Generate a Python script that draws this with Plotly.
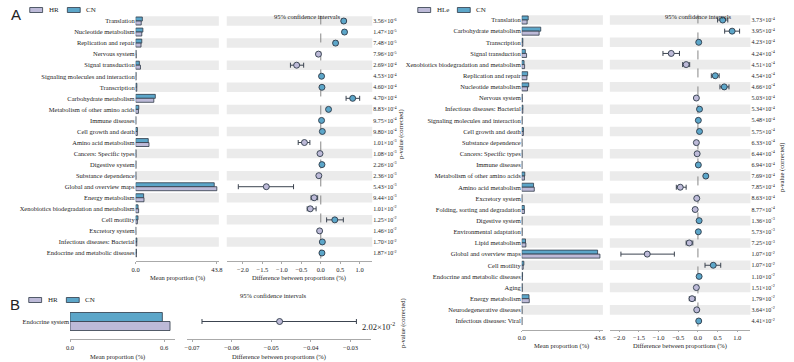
import numpy as np
import plotly.graph_objects as go

W, H = 794, 362

# ---------------- Panel A (left): HR vs CN ----------------
A1_CATEGORIES = ["Translation", "Nucleotide metabolism", "Replication and repair", "Nervous system",
                 "Signal transduction", "Signaling molecules and interaction", "Transcription",
                 "Carbohydrate metabolism", "Metabolism of other amino acids", "Immune diseases",
                 "Cell growth and death", "Amino acid metabolism", "Cancers: Specific types",
                 "Digestive system", "Substance dependence", "Global and overview maps",
                 "Energy metabolism", "Xenobiotics biodegradation and metabolism", "Cell motility",
                 "Excretory system", "Infectious diseases: Bacterial", "Endocrine and metabolic diseases"]
A1_HR = [3.0, 3.3, 2.9, 0.30, 2.6, 0.20, 0.60, 9.8, 1.5, 0.10, 0.90, 7.2, 0.20, 0.15, 0.15, 43.8,
         4.5, 1.6, 0.90, 0.10, 0.60, 0.40]
A1_CN = [3.6, 3.9, 3.3, 0.24, 2.0, 0.22, 0.63, 10.6, 1.7, 0.12, 0.94, 6.8, 0.18, 0.18, 0.10, 42.4,
         4.3, 1.3, 1.25, 0.07, 0.64, 0.43]
A1_DIFF = [0.59, 0.61, 0.38, -0.06, -0.62, 0.02, 0.03, 0.82, 0.20, 0.02, 0.04, -0.42, -0.02, 0.03,
           -0.05, -1.40, -0.17, -0.27, 0.36, -0.03, 0.04, 0.03]
A1_CI_LOW = [0.54, 0.57, 0.33, -0.08, -0.78, 0.01, 0.02, 0.65, 0.16, 0.01, 0.03, -0.58, -0.03, 0.02,
             -0.07, -2.12, -0.25, -0.35, 0.15, -0.04, 0.03, 0.02]
A1_CI_HIGH = [0.64, 0.65, 0.43, -0.04, -0.44, 0.03, 0.04, 1.00, 0.24, 0.03, 0.05, -0.28, -0.01, 0.04,
              -0.03, -0.70, -0.08, -0.12, 0.58, -0.02, 0.05, 0.04]
A1_PVALUES = [3.56e-6, 1.47e-5, 7.48e-5, 7.96e-5, 2.69e-4, 4.53e-4, 4.60e-4, 4.70e-4, 8.83e-4,
              9.75e-4, 9.80e-4, 1.01e-3, 1.08e-3, 2.26e-3, 2.36e-3, 5.43e-3, 9.44e-3, 1.01e-2,
              1.25e-2, 1.46e-2, 1.70e-2, 1.87e-2]
A1_DIFF_TICKS = [-2.0, -1.5, -1.0, -0.5, 0.0, 0.5, 1.0]

# ---------------- Panel A (right): HLe vs CN ----------------
A2_CATEGORIES = ["Translation", "Carbohydrate metabolism", "Transcription", "Signal transduction",
                 "Xenobiotics biodegradation and metabolism", "Replication and repair",
                 "Nucleotide metabolism", "Nervous system", "Infectious diseases: Bacterial",
                 "Signaling molecules and interaction", "Cell growth and death", "Substance dependence",
                 "Cancers: Specific types", "Immune diseases", "Metabolism of other amino acids",
                 "Amino acid metabolism", "Excretory system", "Folding, sorting and degradation",
                 "Digestive system", "Environmental adaptation", "Lipid metabolism",
                 "Global and overview maps", "Cell motility", "Endocrine and metabolic diseases",
                 "Aging", "Energy metabolism", "Neurodegenerative diseases", "Infectious diseases: Viral"]
A2_HLE = [3.0, 9.7, 0.60, 2.7, 1.6, 2.9, 3.2, 0.30, 0.61, 0.20, 0.90, 0.15, 0.21, 0.10, 1.5, 7.0,
          0.12, 1.5, 0.15, 0.20, 2.3, 43.6, 0.80, 0.42, 0.30, 4.2, 0.16, 0.10]
A2_CN = [3.6, 10.6, 0.62, 2.0, 1.3, 3.3, 3.9, 0.26, 0.65, 0.21, 0.94, 0.11, 0.19, 0.11, 1.7, 6.6,
         0.09, 1.43, 0.18, 0.21, 2.1, 42.3, 1.19, 0.45, 0.26, 4.05, 0.13, 0.12]
A2_DIFF = [0.63, 0.87, 0.02, -0.68, -0.30, 0.44, 0.67, -0.04, 0.04, 0.01, 0.04, -0.04, -0.02, 0.01,
           0.20, -0.45, -0.03, -0.07, 0.03, 0.01, -0.22, -1.29, 0.39, 0.03, -0.04, -0.15, -0.03, 0.02]
A2_CI_LOW = [0.50, 0.68, 0.01, -0.89, -0.39, 0.34, 0.56, -0.05, 0.03, 0.00, 0.03, -0.05, -0.03, 0.00,
             0.17, -0.55, -0.04, -0.09, 0.02, 0.00, -0.30, -1.96, 0.18, 0.02, -0.05, -0.22, -0.04, 0.01]
A2_CI_HIGH = [0.76, 1.06, 0.03, -0.47, -0.21, 0.54, 0.79, -0.03, 0.05, 0.02, 0.05, -0.03, -0.01, 0.02,
              0.23, -0.30, -0.02, -0.05, 0.04, 0.02, -0.13, -0.60, 0.58, 0.04, -0.03, -0.07, -0.02, 0.03]
A2_PVALUES = [3.73e-4, 3.95e-4, 4.23e-4, 4.24e-4, 4.51e-4, 4.54e-4, 4.66e-4, 5.03e-4, 5.34e-4,
              5.48e-4, 5.75e-4, 6.33e-4, 6.44e-4, 6.94e-4, 7.69e-4, 7.85e-4, 8.63e-4, 8.77e-4,
              1.36e-3, 5.73e-3, 7.25e-3, 1.07e-2, 1.07e-2, 1.10e-2, 1.51e-2, 1.79e-2, 3.64e-2, 4.41e-2]
A2_DIFF_TICKS = [-2.0, -1.5, -1.0, -0.5, 0.0, 0.5, 1.0]

# ---------------- Panel B: HR vs CN ----------------
B_CATEGORIES = ["Endocrine system"]
B_HR = [0.638]
B_CN = [0.589]
B_DIFF = [-0.0479]
B_CI_LOW = [-0.0675]
B_CI_HIGH = [-0.0285]
B_PVALUES = [2.02e-2]
B_BAR_TICKS = [0.0, 0.6]
B_DIFF_TICKS = [-0.07, -0.06, -0.05, -0.04, -0.03]

# ---------------- styles ----------------
SERIF = "Liberation Serif, Times New Roman, serif"
SANS = "Liberation Sans, Arial, sans-serif"
CN_FILL = "#5CA6C9"
G_FILL = "#BDBAD8"
EDGE = "#2E3A48"
BAND = "#EBEBEB"
ERR = "#3C4450"
AXIS = "#AAAAAA"
TXT = "#222222"
FS = 6.5


def px(x):
    return x / W


def py(y):
    return 1 - y / H


def fmt_p(p):
    m, e = f"{p:.2e}".split("e")
    return f"{m}×10<sup>{int(e)}</sup>"


fig = go.Figure()
shapes = []
annotations = []
layout_axes = {}


def add_panel(k, cats, g_vals, cn_vals, diff, lo, hi, pvals, geo, bar_ticks, diff_ticks,
              diff_fmt, bands=True, pv_axis=True, zero_line=True, bar_w=0.36, ticklen=2):
    n = len(cats)
    idx = np.arange(n)
    y_first, step = geo["y_first"], geo["step"]
    top_px, axis_px = geo["top"], geo["axis"]
    yr_top = -(y_first - top_px) / step
    yr_bot = (axis_px - y_first) / step
    bx0, bx1, b_zero, b_scale = geo["bar"]
    dx0, dx1, d_zero, d_scale = geo["diff"]
    xa_b, xa_d = 2 * k + 1, 2 * k + 2
    nb = "" if xa_b == 1 else str(xa_b)
    nd = str(xa_d)
    ydom = [py(axis_px), py(top_px)]

    fig.add_trace(go.Bar(orientation="h", x=cn_vals, y=idx - bar_w / 2, width=bar_w,
                         marker=dict(color=CN_FILL, line=dict(color=EDGE, width=0.8)),
                         xaxis="x" + nb, yaxis="y" + nb, hoverinfo="skip"))
    fig.add_trace(go.Bar(orientation="h", x=g_vals, y=idx + bar_w / 2, width=bar_w,
                         marker=dict(color=G_FILL, line=dict(color=EDGE, width=0.8)),
                         xaxis="x" + nb, yaxis="y" + nb, hoverinfo="skip"))
    d = np.array(diff)
    colors = [CN_FILL if v > 0 else G_FILL for v in diff]
    fig.add_trace(go.Scatter(x=d, y=idx, mode="markers",
                             marker=dict(color=colors, size=6, line=dict(color=EDGE, width=0.9)),
                             error_x=dict(type="data", symmetric=False,
                                          array=np.array(hi) - d, arrayminus=d - np.array(lo),
                                          color=ERR, thickness=1, width=2.5),
                             xaxis="x" + nd, yaxis="y" + nd, hoverinfo="skip"))

    b_range = [(bx0 - b_zero) / b_scale, (bx1 - b_zero) / b_scale]
    d_range = [(dx0 - d_zero) / d_scale, (dx1 - d_zero) / d_scale]
    common_x = dict(showline=True, linecolor=AXIS, linewidth=1, ticks="outside", ticklen=ticklen,
                    tickcolor=AXIS, tickfont=dict(family=SERIF, size=FS, color=TXT),
                    showgrid=False, zeroline=False, fixedrange=True)
    layout_axes["xaxis" + nb] = dict(domain=[px(bx0), px(bx1)], range=b_range, anchor="y" + nb,
                                     tickvals=bar_ticks, ticktext=[f"{v:.1f}" for v in bar_ticks],
                                     **common_x)
    layout_axes["yaxis" + nb] = dict(domain=ydom, range=[yr_bot, yr_top], anchor="x" + nb,
                                     tickvals=list(idx), ticktext=cats, showgrid=False,
                                     zeroline=False, showline=False, ticks="",
                                     tickfont=dict(family=SERIF, size=FS, color=TXT),
                                     fixedrange=True)
    layout_axes["xaxis" + nd] = dict(domain=[px(dx0), px(dx1)], range=d_range, anchor="y" + nd,
                                     tickvals=diff_ticks, tickformat=diff_fmt, **common_x)
    ya = dict(domain=ydom, range=[yr_bot, yr_top], anchor="x" + nd, showgrid=False,
              zeroline=False, showline=False, ticks="", fixedrange=True, side="right")
    if pv_axis:
        ya.update(tickvals=list(idx), ticktext=[fmt_p(p) for p in pvals],
                  tickfont=dict(family=SERIF, size=6, color=TXT))
    else:
        ya.update(showticklabels=False)
    layout_axes["yaxis" + nd] = ya

    if bands:
        for i in range(0, n, 2):
            for xr, yr in (("x" + nb, "y" + nb), ("x" + nd, "y" + nd)):
                shapes.append(dict(type="rect", xref=xr + " domain", yref=yr, x0=0, x1=1,
                                   y0=i - 0.43, y1=i + 0.43, fillcolor=BAND, line_width=0,
                                   layer="below"))
    if zero_line:
        shapes.append(dict(type="line", xref="x" + nd, yref="y" + nd, x0=0, x1=0,
                           y0=-0.5, y1=n - 0.5, line=dict(color="#888888", width=1, dash="dash"),
                           layer="below"))


def text(x, y, s, size=FS, family=SERIF, angle=0, xanchor="center", color=TXT):
    annotations.append(dict(x=px(x), y=py(y), xref="paper", yref="paper", text=s, showarrow=False,
                            font=dict(family=family, size=size, color=color), textangle=angle,
                            xanchor=xanchor, yanchor="middle"))


def legend(x, y, labels):
    for (sx, lab, color) in zip(x, labels, (G_FILL, CN_FILL)):
        shapes.append(dict(type="rect", xref="paper", yref="paper", x0=px(sx), x1=px(sx + 13),
                           y0=py(y + 2.5), y1=py(y - 2.5), fillcolor=color,
                           line=dict(color=EDGE, width=0.8)))
        text(sx + 17, y, lab, size=7, xanchor="left")


# Panel A left
add_panel(0, A1_CATEGORIES, A1_HR, A1_CN, A1_DIFF, A1_CI_LOW, A1_CI_HIGH, A1_PVALUES,
          dict(y_first=21, step=232 / 21, top=15.5, axis=261,
               bar=(133, 217, 133, 82 / 43.8), diff=(225, 372, 320, 39.3)),
          [0.0, max(A1_HR + A1_CN)], A1_DIFF_TICKS, ".1f")
# Panel A right
add_panel(1, A2_CATEGORIES, A2_HLE, A2_CN, A2_DIFF, A2_CI_LOW, A2_CI_HIGH, A2_PVALUES,
          dict(y_first=20, step=301 / 27, top=14.4, axis=330,
               bar=(523, 605, 523, 79 / 43.6), diff=(612, 754, 701, 39.7)),
          [0.0, max(A2_HLE + A2_CN)], A2_DIFF_TICKS, ".1f", ticklen=1)
# Panel B
add_panel(2, B_CATEGORIES, B_HR, B_CN, B_DIFF, B_CI_LOW, B_CI_HIGH, B_PVALUES,
          dict(y_first=321.5, step=20, top=311, axis=339,
               bar=(66.7, 173, 66.7, 95 / 0.6), diff=(185, 371, 270 + 0.05 * 4000, 4000)),
          B_BAR_TICKS, B_DIFF_TICKS, ".2f", bands=False, pv_axis=False, zero_line=False,
          bar_w=0.45, ticklen=2)

# Panel letters and legends
text(12, 14, "A", size=15, family=SANS)
text(11, 304, "B", size=15, family=SANS)
legend([26, 64], 10, ["HR", "CN"])
legend([418, 458], 10, ["HLe", "CN"])
legend([25, 63], 300, ["HR", "CN"])

# titles
text(307, 16, "95% confidence intervals")
text(702, 16, "95% confidence intervals")
text(272, 295, "95% confidence intervals")
text(175, 278, "Mean proportion (%)")
text(298, 278, "Difference between proportions (%)")
text(563, 346, "Mean proportion (%)")
text(683, 346, "Difference between proportions (%)")
text(115, 356.5, "Mean proportion (%)")
text(278, 356.5, "Difference between proportions (%)")
text(401, 134, "p-value (corrected)", angle=-90)
text(786, 167, "p-value (corrected)", angle=-90)
text(403, 323, "p-value (corrected)", angle=-90)
text(360, 326, fmt_p(B_PVALUES[0]), size=8.5, xanchor="left")

fig.update_layout(width=W, height=H, autosize=False, margin=dict(l=0, r=0, t=0, b=0, pad=0),
                  paper_bgcolor="white", plot_bgcolor="white", showlegend=False,
                  barmode="overlay", shapes=shapes, annotations=annotations, **layout_axes)

fig.write_html("out.html", config={"displayModeBar": False},
               post_script="document.body.style.margin='0px';")
